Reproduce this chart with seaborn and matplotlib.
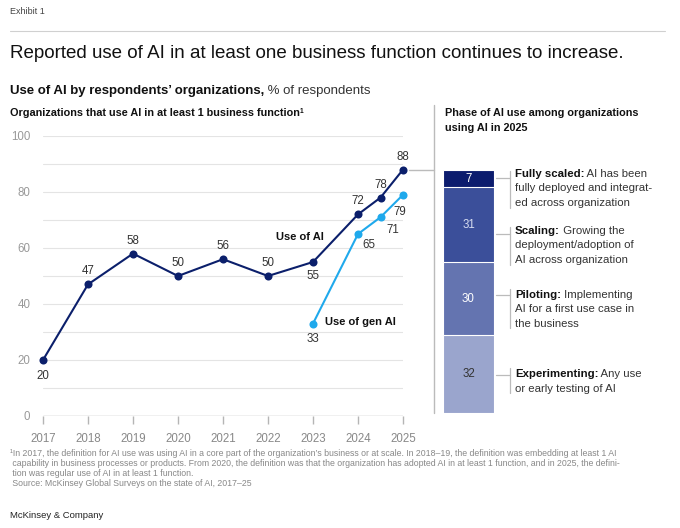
import matplotlib
matplotlib.use('Agg')
import matplotlib.pyplot as plt
import seaborn as sns
import pandas as pd

# Data read from the exhibit
years_ai = [2017, 2018, 2019, 2020, 2021, 2022, 2023, 2024, 2024.5, 2025]
use_ai = [20, 47, 58, 50, 56, 50, 55, 72, 78, 88]
years_gen = [2023, 2024, 2024.5, 2025]
use_gen = [33, 65, 71, 79]
year_ticks = [2017, 2018, 2019, 2020, 2021, 2022, 2023, 2024, 2025]

phases = ['Experimenting', 'Piloting', 'Scaling', 'Fully scaled']
phase_share = [32, 30, 31, 7]
phase_desc = [
    'Any use\nor early testing of AI',
    'Implementing\nAI for a first use case in\nthe business',
    'Growing the\ndeployment/adoption of\nAI across organization',
    'AI has been\nfully deployed and integrat-\ned across organization',
]

# label offsets in pixels (dx, dy)
off_ai = [(0, -16), (0, 13), (0, 13), (0, 13), (0, 13), (0, 13), (0, -14), (0, 13), (0, 13), (0, 13)]
off_gen = [(0, -15), (11, -11), (12, -13), (-3, -17)]

navy = '#0b1f6b'
sky = '#1fa9ec'
phase_colors = ['#9aa5cd', '#6474b0', '#3b4f9a', '#0c1c6e']
phase_text = ['#333333', '#ffffff', '#d6dcf0', '#ffffff']

sns.set_theme(style='white')
plt.rcParams['font.family'] = ['Liberation Sans', 'DejaVu Sans']

W, H = 680, 528
fig = plt.figure(figsize=(6.8, 5.28), dpi=100)


def fx(x):
    return x / W


def fy(y):
    return 1 - y / H


def txt(x, y, s, **kw):
    return fig.text(fx(x), fy(y), s, **kw)


def line(x0, y0, x1, y1, color='#bbbbbb', lw=0.8):
    fig.add_artist(plt.Line2D([fx(x0), fx(x1)], [fy(y0), fy(y1)], color=color, lw=lw,
                              transform=fig.transFigure))


# line chart axes first, so annotations can hang off it
ax = fig.add_axes([fx(43), fy(416), fx(360), 280 / H])


def after(t, s, **kw):
    # place text right after another text
    return ax.annotate(s, xy=(1, 0.5), xycoords=t, ha='left', va='center',
                       annotation_clip=False, **kw)


# header
txt(10, 11, 'Exhibit 1', fontsize=6.5, color='#444444', va='center')
line(10, 31, 665, 31, color='#d0d0d0', lw=0.8)
txt(10, 53, 'Reported use of AI in at least one business function continues to increase.',
    fontsize=13.5, color='#111111', va='center')
t = txt(10, 91, 'Use of AI by respondents\u2019 organizations,', fontsize=9.5, fontweight='bold',
        color='#111111', va='center')
after(t, ' % of respondents', fontsize=9.5, color='#333333')
t2 = txt(10, 113, 'Organizations that use AI in at least 1 business function', fontsize=7.8,
         fontweight='bold', color='#111111', va='center')
ax.annotate('1', xy=(1, 1), xycoords=t2, fontsize=4.8, fontweight='bold', color='#111111',
            va='top', ha='left', annotation_clip=False)
txt(445, 113, 'Phase of AI use among organizations', fontsize=7.8,
    fontweight='bold', color='#111111', va='center')
txt(445, 128, 'using AI in 2025', fontsize=7.8, fontweight='bold', color='#111111', va='center')

# line chart
df_ai = pd.DataFrame({'year': years_ai, 'pct': use_ai})
df_gen = pd.DataFrame({'year': years_gen, 'pct': use_gen})
sns.lineplot(data=df_ai, x='year', y='pct', color=navy, marker='o', markersize=5.8,
             markeredgewidth=0, lw=1.5, ax=ax, clip_on=False, zorder=4)
sns.lineplot(data=df_gen, x='year', y='pct', color=sky, marker='o', markersize=5.8,
             markeredgewidth=0, lw=1.5, ax=ax, clip_on=False, zorder=4)
ax.set_xlim(2017, 2025)
ax.set_ylim(0, 100)
for v in range(10, 101, 10):
    ax.axhline(v, color='#e4e4e4', lw=0.8, zorder=0)
ax.axhline(0, color='#b5b5b5', lw=1.0, zorder=1)
for s in ax.spines.values():
    s.set_visible(False)
ax.set_xticks(year_ticks)
ax.set_xticklabels([str(y) for y in year_ticks])
ax.set_yticks([0, 20, 40, 60, 80, 100])
ax.tick_params(axis='x', direction='out', length=6, width=1.0, color='#b5b5b5',
               labelsize=8.3, labelcolor='#888888', pad=6, bottom=True)
ax.tick_params(axis='y', length=0, labelsize=8.3, labelcolor='#999999', pad=9)
ax.set_xlabel('')
ax.set_ylabel('')
ax.grid(False)

for x, y, (dx, dy) in zip(years_ai, use_ai, off_ai):
    ax.annotate(str(y), (x, y), xytext=(dx * 0.72, dy * 0.72), textcoords='offset points',
                ha='center', va='center', fontsize=8.3, color='#333333')
for x, y, (dx, dy) in zip(years_gen, use_gen, off_gen):
    ax.annotate(str(y), (x, y), xytext=(dx * 0.72, dy * 0.72), textcoords='offset points',
                ha='center', va='center', fontsize=8.3, color='#333333')
txt(324, 237, 'Use of AI', fontsize=8, fontweight='bold', color='#111111', ha='right', va='center')
txt(325, 322, 'Use of gen AI', fontsize=8, fontweight='bold', color='#111111', ha='left', va='center')

# separator + connector
line(434, 105, 434, 413, color='#bbbbbb', lw=1.0)
line(409, 170, 434, 170, color='#bbbbbb', lw=1.0)

# stacked bar
bax = fig.add_axes([fx(443), fy(413), fx(51), 243 / H])
cum = []
total = 0
for v in phase_share:
    total += v
    cum.append(total)
for i in range(len(phases) - 1, -1, -1):
    sns.barplot(x=['2025'], y=[cum[i]], color=phase_colors[i], width=1, saturation=1,
                edgecolor='white', linewidth=0.8, ax=bax)
bax.set_xlim(-0.5, 0.5)
bax.set_ylim(0, 100)
bax.axis('off')
start = 0
for v, c in zip(phase_share, phase_text):
    bax.text(0, start + v / 2, str(v), ha='center', va='center', fontsize=8.3, color=c)
    start += v

# phase annotations: (connector y, bracket top, bracket bottom, first text line y)
ann = [(375, 368, 393, 374), (295, 289, 328, 295), (234, 227, 265, 231), (178, 171, 208, 174)]
for name, desc, (cy, b0, b1, ty) in zip(phases, phase_desc, ann):
    line(496, cy, 510, cy, color='#bbbbbb', lw=0.9)
    line(510, b0, 510, b1, color='#bbbbbb', lw=0.9)
    first, *rest = desc.split('\n')
    tb = txt(515, ty, name + ':', fontsize=8.2, fontweight='bold', color='#111111', va='center')
    after(tb, ' ' + first, fontsize=8.2, color='#333333')
    for k, r in enumerate(rest):
        txt(515, ty + 14.5 * (k + 1), r, fontsize=8.2, color='#333333', va='center')

# footnotes
foot = [
    '\u00b9In 2017, the definition for AI use was using AI in a core part of the organization\u2019s business or at scale. In 2018\u201319, the definition was embedding at least 1 AI',
    ' capability in business processes or products. From 2020, the definition was that the organization has adopted AI in at least 1 function, and in 2025, the defini-',
    ' tion was regular use of AI in at least 1 function.',
    ' Source: McKinsey Global Surveys on the state of AI, 2017\u201325',
]
for k, s in enumerate(foot):
    txt(10, 453 + 10.3 * k, s, fontsize=6.3, color='#888888', va='center')
txt(10, 515, 'McKinsey & Company', fontsize=6.8, color='#222222', va='center')

fig.savefig('out.png', dpi=100)
